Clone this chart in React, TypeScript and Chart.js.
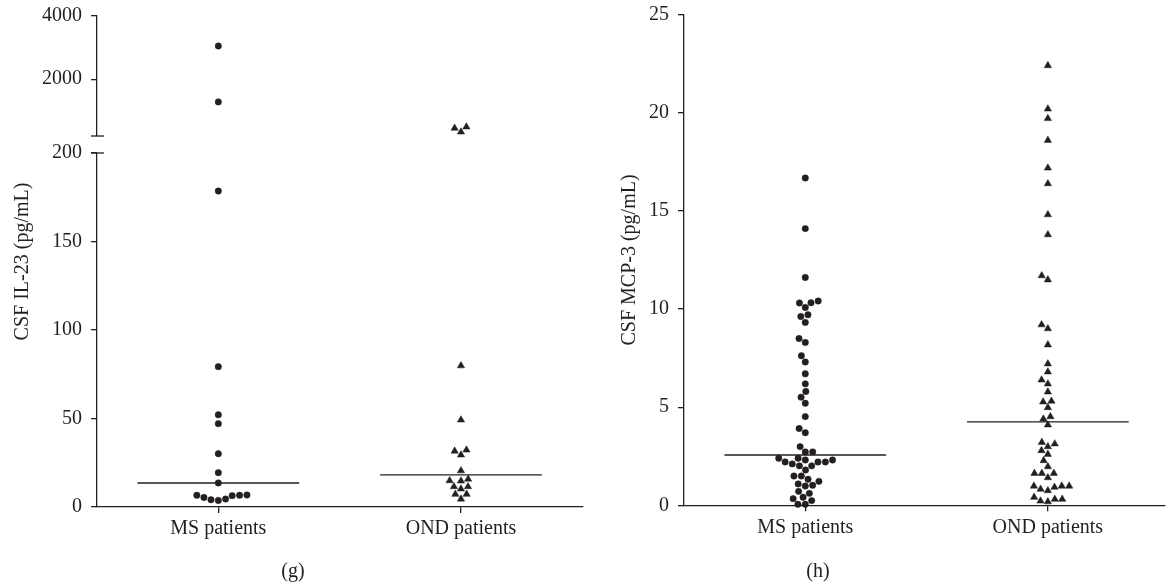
import React, { useEffect, useRef } from "react";
import { Chart, registerables } from "chart.js";
Chart.register(...registerables);

// ---------- data ----------
const CATEGORIES = ["MS patients", "OND patients"];
const G_LOW_TICKS = [0, 50, 100, 150, 200];
const G_HIGH_TICKS = [2000, 4000];
const H_TICKS = [0, 5, 10, 15, 20, 25];
const G_BREAK = 200;
const G_MAX = 4000;
const H_MAX = 25;

const MS_IL23 = [3050, 1280, 178.5, 79.3, 52.1, 47.1, 30.1, 19.4, 13.6, 6.6, 6.4, 4.5, 3.7, 4.1, 5.4, 6.6, 6.8];
const OND_IL23 = [490, 450, 330, 79.8, 49.2, 32.2, 31.6, 29.4, 20.5, 15.8, 14.7, 14.9, 11.5, 10.2, 11.5, 7.2, 7.2, 4.5];

const MS_MCP3 = [16.68, 14.1, 11.61, 10.41, 10.31, 10.32, 10.08, 9.71, 9.62, 9.32, 8.5, 8.3, 7.62, 7.3, 6.7,
  6.19, 5.8, 5.51, 5.2, 4.52, 3.91, 3.7, 2.99, 2.72, 2.72, 2.4, 2.4, 2.31, 2.31, 2.21, 2.21, 2.21, 2.11, 2.01, 2.01,
  1.8, 1.49, 1.49, 1.33, 1.22, 1.09, 1.02, 0.98, 0.71, 0.61, 0.41, 0.34, 0.24, 0.05, 0.05];
const OND_MCP3 = [22.41, 20.2, 19.71, 18.6, 17.19, 16.39, 14.81, 13.79, 11.7, 11.49, 9.2, 9.0, 8.18, 7.21, 6.8,
  6.39, 6.19, 5.78, 5.31, 5.27, 4.98, 4.52, 4.4, 4.1, 3.21, 3.13, 2.99, 2.79, 2.6, 2.28, 1.97, 1.63, 1.63, 1.63,
  1.41, 0.98, 0.98, 0.98, 0.92, 0.82, 0.75, 0.41, 0.31, 0.31, 0.22, 0.18];

// ---------- style ----------
const INK = "#231f20";
const FONT_FAMILY = "'Liberation Serif', 'Times New Roman', serif";
const FONT = { family: FONT_FAMILY, size: 20 };
const MEDIAN_HALF = 1 / 3;
const DOT_D = 7.4;

function median(a: number[]) {
  const s = [...a].sort((x, y) => x - y);
  const n = s.length;
  return n % 2 ? s[(n - 1) / 2] : (s[n / 2 - 1] + s[n / 2]) / 2;
}

// beeswarm in pixel space: ys are pixel y's, returns pixel x offsets
function swarm(ys: number[], d: number): number[] {
  const order = ys.map((_, i) => i).sort((a, b) => ys[b] - ys[a]);
  const placed: { x: number; y: number }[] = [];
  const out = new Array(ys.length).fill(0);
  for (const i of order) {
    const y = ys[i];
    const cands = [0];
    for (const p of placed) {
      const dy = Math.abs(p.y - y);
      if (dy < d) {
        const dx = Math.sqrt(d * d - dy * dy);
        cands.push(p.x + dx + 1e-6, p.x - dx - 1e-6);
      }
    }
    cands.sort((a, b) => Math.abs(a) - Math.abs(b) || a - b);
    let chosen = 0;
    for (const c of cands) {
      if (placed.every((p) => (p.x - c) ** 2 + (p.y - y) ** 2 >= d * d - 1e-3)) {
        chosen = c;
        break;
      }
    }
    placed.push({ x: chosen, y });
    out[i] = chosen;
  }
  return out;
}

function spread(chart: any, groups: { cat: number; sets: number[] }[], d: number) {
  const xs = chart.scales.x;
  const ppu = xs.getPixelForValue(2) - xs.getPixelForValue(1);
  for (const g of groups) {
    const items: { ds: number; k: number; py: number }[] = [];
    g.sets.forEach((di) => {
      const ds = chart.data.datasets[di];
      const sc = chart.scales[ds.yAxisID || "y"];
      (ds.data as any[]).forEach((pt, k) => items.push({ ds: di, k, py: sc.getPixelForValue(pt.y) }));
    });
    const offs = swarm(items.map((it) => it.py), d);
    items.forEach((it, j) => {
      (chart.data.datasets[it.ds].data as any[])[it.k].x = g.cat + offs[j] / ppu;
    });
  }
  chart.update();
}

const pts = (vals: number[], cat: number) => vals.map((v) => ({ x: cat, y: v }));
const medLine = (vals: number[], cat: number) => {
  const m = median(vals);
  return [{ x: cat - MEDIAN_HALF, y: m }, { x: cat + MEDIAN_HALF, y: m }];
};

const circleStyle = { pointStyle: "circle", pointRadius: 3.2, pointBorderWidth: 0.5, backgroundColor: INK, borderColor: INK, clip: false as any };
const triStyle = { pointStyle: "triangle", pointRadius: 4.2, pointBorderWidth: 0.5, backgroundColor: INK, borderColor: INK, clip: false as any };
const lineStyle = { type: "line" as const, borderColor: INK, borderWidth: 1.4, pointRadius: 0, showLine: true, fill: false };

const noScalePad = (s: any) => {
  s.paddingTop = 0;
  s.paddingBottom = 0;
  s.paddingLeft = 0;
  s.paddingRight = 0;
};

const xScale = (max: number, h: number) => ({
  type: "linear",
  min: 0.5,
  max,
  afterBuildTicks: (s: any) => { s.ticks = CATEGORIES.map((_, i) => ({ value: i + 1 })); },
  afterFit: (s: any) => { s.height = h; noScalePad(s); },
  ticks: { callback: (v: any) => CATEGORIES[v - 1] ?? "", font: FONT, color: INK, padding: 4, maxRotation: 0, autoSkip: false },
  grid: { drawOnChartArea: false, drawTicks: true, tickLength: 6, color: INK, lineWidth: 1.3 },
  border: { color: INK, width: 1.3 },
});

const yAxis = (extra: any, ticks: number[], width: number) => ({
  type: "linear",
  position: "left",
  afterBuildTicks: (s: any) => { s.ticks = ticks.map((v) => ({ value: v })); },
  afterFit: (s: any) => { s.width = width; noScalePad(s); },
  ticks: { font: FONT, color: INK, padding: 9, callback: (v: any) => String(v) },
  grid: { drawOnChartArea: false, drawTicks: true, tickLength: 6, color: INK, lineWidth: 1.3 },
  border: { color: INK, width: 1.3 },
  ...extra,
});

function drawText(ctx: CanvasRenderingContext2D, text: string, x: number, y: number, rotate: boolean) {
  ctx.save();
  ctx.fillStyle = INK;
  ctx.font = `20px ${FONT_FAMILY}`;
  ctx.textAlign = "center";
  ctx.textBaseline = "alphabetic";
  ctx.translate(x, y);
  if (rotate) ctx.rotate(-Math.PI / 2);
  ctx.fillText(text, 0, 0);
  ctx.restore();
}

const G_W = 587;
const H_LEFT = 587;
const H_W = 1169 - 587;

export default function App() {
  const gRef = useRef<HTMLCanvasElement>(null);
  const hRef = useRef<HTMLCanvasElement>(null);

  useEffect(() => {
    const msLow = MS_IL23.filter((v) => v <= G_BREAK);
    const msHigh = MS_IL23.filter((v) => v > G_BREAK);
    const ondLow = OND_IL23.filter((v) => v <= G_BREAK);
    const ondHigh = OND_IL23.filter((v) => v > G_BREAK);

    const gChart = new Chart(gRef.current!, {
      type: "scatter",
      data: {
        datasets: [
          { data: pts(msLow, 1), yAxisID: "yLow", ...circleStyle },
          { data: pts(msHigh, 1), yAxisID: "yHigh", ...circleStyle },
          { data: pts(ondLow, 2), yAxisID: "yLow", ...triStyle },
          { data: pts(ondHigh, 2), yAxisID: "yHigh", ...triStyle },
          { data: medLine(MS_IL23, 1), yAxisID: "yLow", ...lineStyle },
          { data: medLine(OND_IL23, 2), yAxisID: "yLow", ...lineStyle },
        ] as any,
      },
      options: {
        animation: false,
        responsive: false,
        layout: { padding: { top: 16, left: 0, right: 0, bottom: 0 } },
        plugins: { legend: { display: false }, tooltip: { enabled: false } },
        scales: {
          x: xScale(2.5, 79),
          yLow: yAxis({ stack: "g", stackWeight: 354, weight: 1, min: 0, max: G_BREAK }, G_LOW_TICKS, 97),
          yGap: {
            type: "linear", position: "left", stack: "g", stackWeight: 17, weight: 2, min: 0, max: 1,
            afterFit: (s: any) => { s.width = 97; noScalePad(s); },
            ticks: { display: false }, grid: { display: false }, border: { display: false },
          },
          yHigh: yAxis({ stack: "g", stackWeight: 120, weight: 3, min: G_BREAK, max: G_MAX }, G_HIGH_TICKS, 97),
        } as any,
      },
      plugins: [
        {
          id: "decoG",
          afterDraw(chart: any) {
            const ctx = chart.ctx as CanvasRenderingContext2D;
            const a = chart.chartArea;
            ctx.save();
            ctx.strokeStyle = INK;
            ctx.lineWidth = 1.3;
            for (const y of [chart.scales.yHigh.bottom, chart.scales.yLow.top]) {
              ctx.beginPath();
              ctx.moveTo(a.left - 6, y);
              ctx.lineTo(a.left + 7, y);
              ctx.stroke();
            }
            ctx.restore();
            drawText(ctx, "CSF IL-23 (pg/mL)", 28, (a.top + a.bottom) / 2, true);
            drawText(ctx, "(g)", 293, 577, false);
          },
        },
      ],
    });
    spread(gChart, [{ cat: 1, sets: [0, 1] }, { cat: 2, sets: [2, 3] }], DOT_D);

    const hChart = new Chart(hRef.current!, {
      type: "scatter",
      data: {
        datasets: [
          { data: pts(MS_MCP3, 1), yAxisID: "y", ...circleStyle },
          { data: pts(OND_MCP3, 2), yAxisID: "y", ...triStyle },
          { data: medLine(MS_MCP3, 1), yAxisID: "y", ...lineStyle },
          { data: medLine(OND_MCP3, 2), yAxisID: "y", ...lineStyle },
        ] as any,
      },
      options: {
        animation: false,
        responsive: false,
        layout: { padding: { top: 14.7, left: 0, right: 0, bottom: 0 } },
        plugins: { legend: { display: false }, tooltip: { enabled: false } },
        scales: {
          x: xScale(2.48, 80.7),
          y: yAxis({ min: 0, max: H_MAX }, H_TICKS, 684 - H_LEFT),
        } as any,
      },
      plugins: [
        {
          id: "decoH",
          afterDraw(chart: any) {
            const ctx = chart.ctx as CanvasRenderingContext2D;
            const a = chart.chartArea;
            drawText(ctx, "CSF MCP-3 (pg/mL)", 635 - H_LEFT, (a.top + a.bottom) / 2, true);
            drawText(ctx, "(h)", 818 - H_LEFT, 577, false);
          },
        },
      ],
    });
    spread(hChart, [{ cat: 1, sets: [0] }, { cat: 2, sets: [1] }], DOT_D);

    return () => {
      gChart.destroy();
      hChart.destroy();
    };
  }, []);

  return (
    <div style={{ position: "fixed", left: 0, top: 0, width: 1169, height: 586, background: "#fff", overflow: "hidden" }}>
      <canvas ref={gRef} width={G_W} height={586} style={{ position: "absolute", left: 0, top: 0 }} />
      <canvas ref={hRef} width={H_W} height={586} style={{ position: "absolute", left: H_LEFT, top: 0 }} />
    </div>
  );
}
